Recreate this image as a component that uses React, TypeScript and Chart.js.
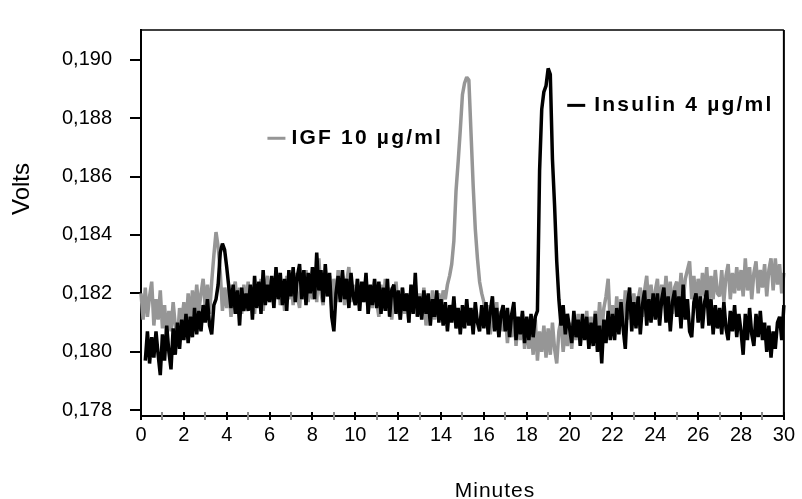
import React, { useEffect, useRef } from 'react';
import { Chart, registerables } from 'chart.js';

Chart.register(...registerables);

// ---- data (volts), one sample every 0.1 min starting at 0 min ----
const SAMPLE_STEP_MIN = 0.1;

const igfVolts: (number | null)[] = [
  0.1820, 0.1811, 0.1822, 0.1812, 0.1819, 0.1824, 0.1809, 0.1818, 0.1811, 0.1821,
  0.1808, 0.1816, 0.1805, 0.1814, 0.1807, 0.1817, 0.1809, 0.1804, 0.1815, 0.1810,
  0.1817, 0.1808, 0.1820, 0.1811, 0.1821, 0.1813, 0.1823, 0.1814, 0.1820, 0.1825,
  0.1815, 0.1823, 0.1813, 0.1824, 0.1833, 0.1841, 0.1836, 0.1827, 0.1814, 0.1822,
  0.1815, 0.1823, 0.1812, 0.1821, 0.1824, 0.1814, 0.1822, 0.1813, 0.1823, 0.1816,
  0.1824, 0.1815, 0.1822, 0.1813, 0.1823, 0.1816, 0.1825, 0.1814, 0.1822, 0.1826,
  0.1817, 0.1825, 0.1815, 0.1823, 0.1827, 0.1816, 0.1824, 0.1814, 0.1826, 0.1818,
  0.1825, 0.1816, 0.1827, 0.1819, 0.1815, 0.1826, 0.1818, 0.1828, 0.1817, 0.1824,
  0.1818, 0.1827, 0.1817, 0.1832, 0.1820, 0.1816, 0.1828, 0.1819, 0.1826, 0.1815,
  0.1825, 0.1817, 0.1828, 0.1818, 0.1826, 0.1816, 0.1824, 0.1829, 0.1817, 0.1823,
  0.1816, 0.1825, 0.1814, 0.1823, 0.1817, 0.1826, 0.1813, 0.1822, 0.1815, 0.1824,
  0.1817, 0.1812, 0.1823, 0.1815, 0.1825, 0.1814, 0.1822, 0.1811, 0.1820, 0.1824,
  0.1815, 0.1811, 0.1822, 0.1813, 0.1820, 0.1810, 0.1821, 0.1814, 0.1823, 0.1812,
  0.1820, 0.1813, 0.1822, 0.1809, 0.1819, 0.1812, 0.1821, 0.1811, 0.1818, 0.1820,
  0.1814, 0.1821, 0.1818, 0.1823, 0.1826, 0.1830, 0.1838, 0.1855, 0.1865, 0.1876,
  0.1888, 0.1892, 0.1894, 0.1893, 0.1875, 0.1857, 0.1842, 0.1832, 0.1824, 0.1820,
  0.1817, 0.1809, 0.1816, 0.1806, 0.1815, 0.1808, 0.1817, 0.1805, 0.1814, 0.1807,
  0.1813, 0.1803, 0.1812, 0.1805, 0.1814, 0.1802, 0.1811, 0.1804, 0.1813, 0.1801,
  0.1810, 0.1801, 0.1808, 0.1799, 0.1811, 0.1797, 0.1807, 0.1800, 0.1809, 0.1798,
  0.1808, 0.1799, 0.1810, 0.1801, 0.1796, 0.1807, 0.1811, 0.1800, 0.1808, 0.1802,
  0.1810, 0.1801, 0.1812, 0.1804, 0.1813, 0.1802, 0.1811, 0.1805, 0.1814, 0.1803,
  0.1812, 0.1804, 0.1814, 0.1806, 0.1817, 0.1807, 0.1815, 0.1819, 0.1825, 0.1809,
  0.1816, 0.1808, 0.1819, 0.1810, 0.1818, 0.1809, 0.1821, 0.1811, 0.1819, 0.1813,
  0.1820, 0.1811, 0.1818, 0.1822, 0.1812, 0.1821, 0.1826, 0.1814, 0.1823, 0.1813,
  0.1821, 0.1825, 0.1814, 0.1823, 0.1816, 0.1826, 0.1815, 0.1824, 0.1813, 0.1822,
  0.1824, 0.1816, 0.1827, 0.1817, 0.1825, 0.1828, 0.1831, 0.1818, 0.1826, 0.1816,
  0.1825, 0.1817, 0.1827, 0.1819, 0.1829, 0.1816, 0.1826, 0.1818, 0.1828, 0.1820,
  0.1819, 0.1828, 0.1817, 0.1826, 0.1830, 0.1818, 0.1827, 0.1820, 0.1829, 0.1821,
  0.1828, 0.1819, 0.1832, 0.1821, 0.1829, 0.1818, 0.1827, 0.1831, 0.1820, 0.1828,
  0.1822, 0.1830, 0.1819, 0.1828, 0.1832, 0.1821, 0.1832, 0.1823, 0.1830, 0.1820,
  0.1827, null, null,
];

const insulinVolts: (number | null)[] = [
  null, null, 0.1797, 0.1807, 0.1796, 0.1805, 0.1798, 0.1807, 0.1799, 0.1792,
  0.1806, 0.1797, 0.1809, 0.1800, 0.1794, 0.1808, 0.1799, 0.1810, 0.1801, 0.1811,
  0.1804, 0.1813, 0.1803, 0.1812, 0.1805, 0.1815, 0.1806, 0.1814, 0.1807, 0.1816,
  0.1810, 0.1818, 0.1809, 0.1806, 0.1816, 0.1818, 0.1823, 0.1834, 0.1837, 0.1835,
  0.1829, 0.1822, 0.1815, 0.1823, 0.1813, 0.1821, 0.1809, 0.1822, 0.1814, 0.1820,
  0.1814, 0.1823, 0.1811, 0.1826, 0.1815, 0.1824, 0.1813, 0.1828, 0.1816, 0.1823,
  0.1817, 0.1826, 0.1815, 0.1829, 0.1818, 0.1827, 0.1816, 0.1825, 0.1814, 0.1828,
  0.1819, 0.1829, 0.1817, 0.1826, 0.1830, 0.1818, 0.1828, 0.1816, 0.1827, 0.1820,
  0.1829, 0.1818, 0.1834, 0.1821, 0.1828, 0.1817, 0.1830, 0.1819, 0.1827, 0.1812,
  0.1807, 0.1820, 0.1826, 0.1817, 0.1828, 0.1818, 0.1825, 0.1815, 0.1827, 0.1819,
  0.1816, 0.1825, 0.1814, 0.1824, 0.1817, 0.1827, 0.1813, 0.1823, 0.1816, 0.1825,
  0.1815, 0.1824, 0.1813, 0.1822, 0.1814, 0.1825, 0.1812, 0.1821, 0.1823, 0.1813,
  0.1821, 0.1811, 0.1822, 0.1814, 0.1820, 0.1810, 0.1823, 0.1813, 0.1827, 0.1812,
  0.1819, 0.1811, 0.1821, 0.1813, 0.1820, 0.1809, 0.1818, 0.1812, 0.1821, 0.1810,
  0.1818, 0.1809, 0.1817, 0.1807, 0.1816, 0.1810, 0.1819, 0.1808, 0.1815, 0.1806,
  0.1816, 0.1808, 0.1818, 0.1809, 0.1815, 0.1806, 0.1817, 0.1810, 0.1807, 0.1816,
  0.1808, 0.1817, 0.1806, 0.1814, 0.1819, 0.1807, 0.1815, 0.1805, 0.1813, 0.1816,
  0.1807, 0.1815, 0.1805, 0.1813, 0.1817, 0.1804, 0.1812, 0.1806, 0.1814, 0.1803,
  0.1812, 0.1804, 0.1813, 0.1805, 0.1812, 0.1814, 0.1862, 0.1883, 0.1889, 0.1891,
  0.1897, 0.1895, 0.1866, 0.1850, 0.1831, 0.1818, 0.1809, 0.1816, 0.1806, 0.1813,
  0.1808, 0.1803, 0.1814, 0.1805, 0.1811, 0.1802, 0.1813, 0.1804, 0.1812, 0.1801,
  0.1810, 0.1802, 0.1813, 0.1800, 0.1809, 0.1796, 0.1811, 0.1803, 0.1814, 0.1804,
  0.1813, 0.1804, 0.1815, 0.1806, 0.1817, 0.1808, 0.1801, 0.1816, 0.1822, 0.1807,
  0.1817, 0.1808, 0.1819, 0.1806, 0.1816, 0.1821, 0.1809, 0.1818, 0.1810, 0.1820,
  0.1811, 0.1820, 0.1809, 0.1818, 0.1822, 0.1810, 0.1819, 0.1807, 0.1817, 0.1821,
  0.1812, 0.1819, 0.1808, 0.1823, 0.1811, 0.1818, 0.1807, 0.1805, 0.1817, 0.1820,
  0.1810, 0.1819, 0.1808, 0.1817, 0.1821, 0.1809, 0.1818, 0.1806, 0.1816, 0.1808,
  0.1815, 0.1806, 0.1817, 0.1808, 0.1804, 0.1814, 0.1807, 0.1816, 0.1805, 0.1813,
  0.1807, 0.1799, 0.1813, 0.1804, 0.1815, 0.1806, 0.1802, 0.1813, 0.1805, 0.1814,
  0.1804, 0.1810, 0.1800, 0.1809, 0.1798, 0.1807, 0.1801, 0.1810, 0.1812, 0.1804,
  0.1816, 0.1804, 0.1810,
];

const yTickValues = [0.178, 0.18, 0.182, 0.184, 0.186, 0.188, 0.19];
const xTickValues = [0, 1, 2, 3, 4, 5, 6, 7, 8, 9, 10, 11, 12, 13, 14, 15, 16, 17, 18, 19, 20, 21, 22, 23, 24, 25, 26, 27, 28, 29, 30];
const Y_MIN = 0.177803;
const Y_MAX = 0.191016;
const X_MIN = 0;
const X_MAX = 30;

const igfLabel = 'IGF 10 µg/ml';
const insulinLabel = 'Insulin 4 µg/ml';
const xTitle = 'Minutes';
const yTitle = 'Volts';

const GRAY = '#969696';
const BLACK = '#000000';
const FONT = '"Liberation Sans", Arial, Helvetica, sans-serif';

// in-plot labels, anchored in data coordinates (minutes, volts)
const annotations = [
  { text: igfLabel, color: GRAY, minute: 5.9, volts: 0.18731, gap: 6 },
  { text: insulinLabel, color: BLACK, minute: 19.89, volts: 0.188436, gap: 9 },
];

const toPoints = (vals: (number | null)[]) =>
  vals.map((v, i) => ({ x: Math.round(i * SAMPLE_STEP_MIN * 10) / 10, y: v }));

const decorPlugin = {
  id: 'decor',
  afterDraw(chart: any) {
    const { ctx, chartArea: a } = chart;
    const xs = chart.scales.x;
    const ys = chart.scales.y;
    ctx.save();
    // top & right frame
    ctx.strokeStyle = BLACK;
    ctx.lineWidth = 1.5;
    ctx.beginPath();
    ctx.moveTo(a.left, a.top);
    ctx.lineTo(a.right, a.top);
    ctx.stroke();
    ctx.lineWidth = 2;
    ctx.beginPath();
    ctx.moveTo(a.right, a.top);
    ctx.lineTo(a.right, a.bottom + 1);
    ctx.stroke();
    // x ticks crossing the axis
    xTickValues.forEach((v) => {
      const px = Math.round(xs.getPixelForValue(v));
      ctx.strokeStyle = v % 2 === 0 ? BLACK : '#8a8a8a';
      ctx.lineWidth = 2;
      ctx.beginPath();
      ctx.moveTo(px, a.bottom - 4);
      ctx.lineTo(px, a.bottom + 4);
      ctx.stroke();
    });
    // axis titles
    ctx.fillStyle = BLACK;
    ctx.font = `24px ${FONT}`;
    ctx.textAlign = 'center';
    ctx.textBaseline = 'middle';
    ctx.save();
    ctx.translate(22.5, 189);
    ctx.rotate(-Math.PI / 2);
    ctx.fillText(yTitle, 0, 0);
    ctx.restore();
    ctx.font = `21px ${FONT}`;
    (ctx as any).letterSpacing = '1px';
    ctx.textBaseline = 'alphabetic';
    ctx.fillText(xTitle, 495, 497);
    // in-plot series labels
    ctx.font = `bold 21px ${FONT}`;
    (ctx as any).letterSpacing = '2.2px';
    ctx.textAlign = 'left';
    annotations.forEach((an) => {
      const px = xs.getPixelForValue(an.minute);
      const py = ys.getPixelForValue(an.volts);
      ctx.strokeStyle = an.color;
      ctx.lineWidth = 3;
      ctx.beginPath();
      ctx.moveTo(px, py);
      ctx.lineTo(px + 18, py);
      ctx.stroke();
      ctx.fillStyle = BLACK;
      ctx.fillText(an.text, px + 18 + an.gap, py + 6);
    });
    (ctx as any).letterSpacing = '0px';
    ctx.restore();
  },
};

export default function App() {
  const canvasRef = useRef<HTMLCanvasElement | null>(null);

  useEffect(() => {
    if (!canvasRef.current) return;
    Chart.defaults.font.family = FONT;
    const chart = new Chart(canvasRef.current, {
      type: 'line',
      data: {
        datasets: [
          {
            label: insulinLabel,
            data: toPoints(insulinVolts),
            borderColor: BLACK,
            borderWidth: 3.5,
            pointRadius: 0,
            tension: 0,
            borderJoinStyle: 'bevel',
            clip: false,
          } as any,
          {
            label: igfLabel,
            data: toPoints(igfVolts),
            borderColor: GRAY,
            borderWidth: 3.5,
            pointRadius: 0,
            tension: 0,
            borderJoinStyle: 'bevel',
            clip: false,
          } as any,
        ],
      },
      options: {
        responsive: false,
        animation: false,
        events: [],
        layout: { padding: { top: 13, right: 14, left: 0, bottom: 0 } },
        plugins: {
          legend: { display: false },
          tooltip: { enabled: false },
          title: { display: false },
        },
        scales: {
          x: {
            type: 'linear',
            min: X_MIN,
            max: X_MAX,
            afterBuildTicks: (scale: any) => {
              scale.ticks = xTickValues.map((v) => ({ value: v }));
            },
            afterFit: (scale: any) => {
              scale.height = 83;
            },
            grid: { display: false, drawTicks: false },
            border: { display: true, color: BLACK, width: 2 },
            ticks: {
              autoSkip: false,
              maxRotation: 0,
              padding: 7,
              color: BLACK,
              font: { size: 20, family: FONT },
              callback: (v: any) => (Number(v) % 2 === 0 ? String(v) : ''),
            },
          },
          y: {
            type: 'linear',
            min: Y_MIN,
            max: Y_MAX,
            afterBuildTicks: (scale: any) => {
              scale.ticks = yTickValues.map((v) => ({ value: v }));
            },
            afterFit: (scale: any) => {
              scale.width = 141;
            },
            grid: {
              display: true,
              drawOnChartArea: false,
              drawTicks: true,
              tickLength: 11,
              color: BLACK,
              lineWidth: 2,
            },
            border: { display: true, color: BLACK, width: 2 },
            ticks: {
              padding: 18,
              color: BLACK,
              font: { size: 20, family: FONT },
              callback: (v: any) => Number(v).toFixed(3).replace('.', ','),
            },
          },
        },
      } as any,
      plugins: [decorPlugin],
    });
    return () => chart.destroy();
  }, []);

  return (
    <div style={{ position: 'absolute', left: 0, top: 0, width: 802, height: 499, background: '#fff' }}>
      <canvas ref={canvasRef} width={802} height={499} style={{ display: 'block' }} />
    </div>
  );
}
